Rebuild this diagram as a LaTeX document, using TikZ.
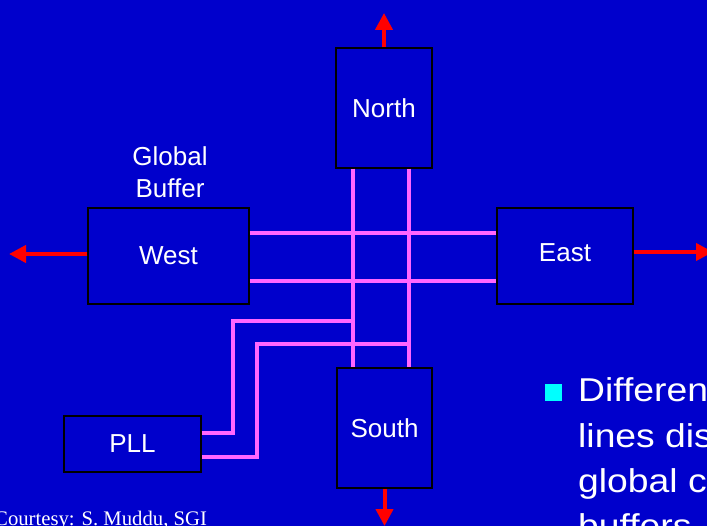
\documentclass[tikz,border=0pt]{standalone}
\usepackage{fontspec}
\setmainfont{Liberation Sans}
\newfontfamily\creditfont{Liberation Serif}
\usetikzlibrary{arrows.meta}
\definecolor{slideblue}{RGB}{0,0,204}
\definecolor{wirepink}{RGB}{255,102,255}
\definecolor{markcyan}{RGB}{0,255,255}

\begin{document}
\begin{tikzpicture}[x=1pt, y=-1pt,
    buffer/.style={rectangle, draw=black, line width=1.5pt, text=white, font=\fontsize{26}{32}\selectfont, inner sep=0pt},
    wire/.style={wirepink, line width=3.5pt},
    outarrow/.style={red, line width=4pt, -{Triangle[length=17pt, width=17pt]}},
    bullettext/.style={text=white, font=\fontsize{33}{45}\selectfont, anchor=base west, inner sep=0pt}]

    % Slide background
    \fill[slideblue] (0,0) rectangle (707,526);
    \useasboundingbox (0,0) rectangle (707,526);

    % Buffers
    \node[buffer, minimum width=96pt, minimum height=120pt] (north) at (384,108) {North};
    \node[buffer, minimum width=95pt, minimum height=120pt] (south) at (384.5,428) {South};
    \node[buffer, minimum width=161pt, minimum height=96pt] (west) at (168.5,256) {West};
    \node[buffer, minimum width=136pt, minimum height=96pt] (east) at (565,256) {\raisebox{6pt}{East}};
    \node[buffer, minimum width=137pt, minimum height=56pt] (pll) at (132.5,444) {PLL};
    \node[text=white, font=\fontsize{26}{32}\selectfont, align=center] (globlabel) at (170,172) {Global\\Buffer};

    % Clock wires
    \coordinate (vleft) at ([xshift=-31pt]north.south);
    \coordinate (vright) at ([xshift=25pt]north.south);
    \draw[wire] (vleft) -- (vleft |- south.north);
    \draw[wire] (vright) -- (vright |- south.north);
    \draw[wire] ([yshift=23pt]west.east) -- ([yshift=23pt]east.west);
    \draw[wire] ([yshift=-25pt]west.east) -- ([yshift=-25pt]east.west);

    % PLL feeds
    \coordinate (bendA) at (233,321);
    \coordinate (bendB) at (257,344);
    \draw[wire] ([yshift=11pt]pll.east) -| (bendA) -- (bendA -| vleft);
    \draw[wire] ([yshift=-13pt]pll.east) -| (bendB) -- (bendB -| vright);

    % Outputs
    \coordinate (northout) at (384,13);
    \coordinate (southout) at (384.5,526);
    \coordinate (westout) at (9,254);
    \coordinate (eastout) at (713,252);
    \draw[outarrow] (north) -- (northout);
    \draw[outarrow] (south) -- (southout);
    \draw[outarrow] (west.west |- westout) -- (westout);
    \draw[outarrow] (east.east |- eastout) -- (eastout);

    % Bullet text
    \node[fill=markcyan, minimum size=17pt, inner sep=0pt] (mark) at (553.5,392.5) {};
    \node[bullettext] (line1) at (578,402) {\scalebox{1.13}[1]{Differen}};
    \node[bullettext] (line2) at (578,447) {\scalebox{1.13}[1]{lines dis}};
    \node[bullettext] (line3) at (578,492) {\scalebox{1.13}[1]{global c}};
    \node[bullettext] (line4) at (578,537) {\scalebox{1.13}[1]{buffers}};

    % Credit
    \node[text=white, font=\creditfont\fontsize{20.7}{25}\selectfont, anchor=base west, inner sep=0pt] (credit) at (-6,525) {Courtesy: S. Muddu, SGI};

\end{tikzpicture}
\end{document}
